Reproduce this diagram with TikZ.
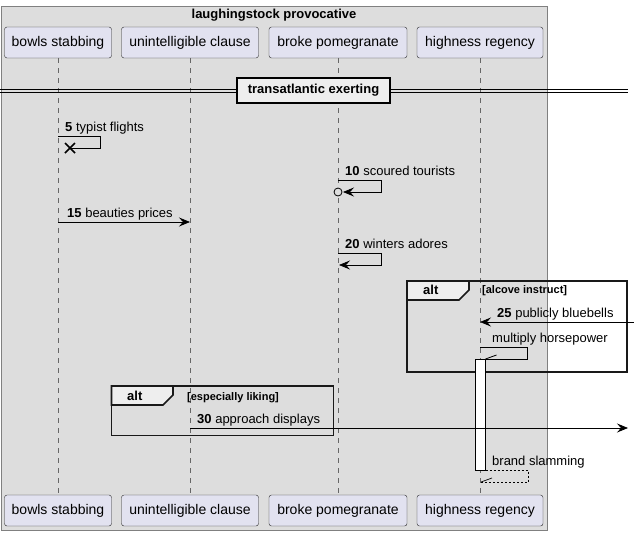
\documentclass[tikz,border=0pt]{standalone}
\usepackage{fontspec}
\setmainfont{Liberation Sans}
\usetikzlibrary{arrows.meta,calc}
\definecolor{partfill}{HTML}{E2E2F0}
\definecolor{boxfill}{HTML}{DDDDDD}
\definecolor{tabfill}{HTML}{EEEEEE}
\begin{document}
\begin{tikzpicture}[
		x=1pt, y=-1pt,
		partbox/.style={draw=black!85, fill=partfill, rounded corners=2.5pt, minimum height=31pt, inner sep=0pt, font=\fontsize{14}{16}\selectfont},
		lifeline/.style={draw=black!60, dash pattern=on 5pt off 5pt, line width=0.6pt},
		msg/.style={line width=0.8pt, -{Stealth[length=11pt, width=9pt, inset=4pt]}},
		msgtext/.style={anchor=base west, inner sep=0pt, font=\fontsize{13}{15}\selectfont},
		frame/.style={draw=black!90, line width=1.6pt},
		altlabel/.style={anchor=base west, inner sep=0pt, font=\fontsize{13}{15}\selectfont\bfseries},
		guard/.style={anchor=base west, inner sep=0pt, font=\fontsize{11}{13}\selectfont\bfseries}
		]
		\useasboundingbox (0,0) rectangle (634,536);
		
		% box round the participants
		\draw[draw=black!50, fill=boxfill, line width=0.8pt] (1,6) rectangle (547.5,530.5);
		\node[anchor=base, inner sep=0pt, font=\fontsize{13}{15}\selectfont\bfseries] (boxtitle) at (274,18.5) {laughingstock provocative};
		
		% participants, top and bottom
		\node[partbox, minimum width=107pt] (bowls) at (58,42.5) {bowls stabbing};
		\node[partbox, minimum width=137pt] (clause) at (190,42.5) {unintelligible clause};
		\node[partbox, minimum width=138pt] (pomegranate) at (338,42.5) {broke pomegranate};
		\node[partbox, minimum width=126pt] (regency) at (480,42.5) {highness regency};
		\node[partbox, minimum width=107pt] (bowls-b) at (58,510.5) {bowls stabbing};
		\node[partbox, minimum width=137pt] (clause-b) at (190,510.5) {unintelligible clause};
		\node[partbox, minimum width=138pt] (pomegranate-b) at (338,510.5) {broke pomegranate};
		\node[partbox, minimum width=126pt] (regency-b) at (480,510.5) {highness regency};
		
		\foreach \p in {bowls,clause,pomegranate,regency}
			\draw[lifeline] (\p.south) -- (\p-b.north);
		
		% divider
		\draw[line width=1pt] (0,89) -- (628,89);
		\draw[line width=1pt] (0,92.5) -- (628,92.5);
		\node[draw, line width=1.6pt, fill=tabfill, minimum width=153pt, minimum height=25pt, inner sep=0pt, font=\fontsize{13}{15}\selectfont\bfseries] (divider) at (313.5,90.5) {transatlantic exerting};
		
		% 5: self message, destroyed
		\coordinate (m5a) at (58,136);
		\coordinate (m5b) at (70,148);
		\draw[line width=0.8pt] (m5a) -- ++(42,0) |- (m5b);
		\draw[line width=1.5pt] ($(m5b)+(-5,-5)$) -- ($(m5b)+(5,5)$) ($(m5b)+(-5,5)$) -- ($(m5b)+(5,-5)$);
		\node[msgtext] (t5) at (65,131) {\textbf{5} typist flights};
		
		% 10
		\coordinate (m10a) at (338,180);
		\coordinate (m10b) at (343,192);
		\draw[msg] (m10a) -- ++(43,0) |- (m10b);
		\draw[line width=0.8pt, fill=boxfill] (338,192) circle[radius=4pt];
		\node[msgtext] (t10) at (345,175) {\textbf{10} scoured tourists};
		
		% 15
		\coordinate (m15a) at (58,222);
		\coordinate (m15b) at (190,222);
		\draw[msg] (m15a) -- (m15b);
		\node[msgtext] (t15) at (67,217) {\textbf{15} beauties prices};
		
		% 20
		\coordinate (m20a) at (338,253);
		\coordinate (m20b) at (339,265);
		\draw[msg] (m20a) -- ++(43,0) |- (m20b);
		\node[msgtext] (t20) at (345,248) {\textbf{20} winters adores};
		
		% alt: alcove instruct
		\draw[frame] (407,281) rectangle (627,372);
		\draw[frame, fill=tabfill] (407,281) -- (469,281) -- (469,290) -- (459,300) -- (407,300) -- cycle;
		\node[altlabel] (alt1) at (423,294) {alt};
		\node[guard] (guard1) at (482,293) {[alcove instruct]};
		
		% 25
		\coordinate (m25a) at (634,322);
		\coordinate (m25b) at (480,322);
		\draw[msg] (m25a) -- (m25b);
		\node[msgtext] (t25) at (497,317) {\textbf{25} publicly bluebells};
		
		% multiply horsepower
		\coordinate (mhpa) at (480,347);
		\coordinate (mhpb) at (485.5,359);
		\draw[line width=0.8pt] (mhpa) -- ++(47,0) |- (mhpb);
		\draw[line width=0.8pt] (mhpb) -- ++(11,-4);
		\node[msgtext] (thp) at (492,342) {multiply horsepower};
		
		% activation
		\draw[fill=white, line width=1pt] (475,359) rectangle (485.5,470);
		
		% alt: especially liking
		\draw[frame] (111.5,386) rectangle (333.5,435.5);
		\draw[frame, fill=tabfill] (111.5,386) -- (173,386) -- (173,395) -- (163,405) -- (111.5,405) -- cycle;
		\node[altlabel] (alt2) at (127,400) {alt};
		\node[guard] (guard2) at (187,400) {[especially liking]};
		
		% 30
		\coordinate (m30a) at (190,428);
		\coordinate (m30b) at (628,428);
		\draw[msg] (m30a) -- (m30b);
		\node[msgtext] (t30) at (197,423) {\textbf{30} approach displays};
		
		% brand slamming (return)
		\coordinate (mbsa) at (485.5,470);
		\coordinate (mbsb) at (481,482);
		\draw[line width=0.7pt, dash pattern=on 2pt off 2pt] (mbsa) -- ++(42.5,0) |- (mbsb);
		\draw[line width=0.7pt] (mbsb) -- ++(11,-4);
		\node[msgtext] (tbs) at (492,465) {brand slamming};
	\end{tikzpicture}
\end{document}
